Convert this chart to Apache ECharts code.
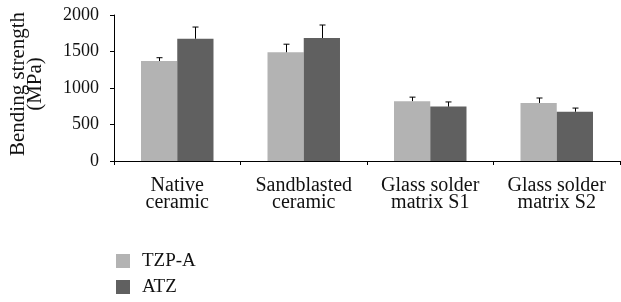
<!DOCTYPE html>
<html lang="en">
<head>
    <meta charset="UTF-8">
    <title>Bending strength</title>
    <script src="https://cdn.jsdelivr.net/npm/echarts@6/dist/echarts.min.js"></script>
    <style>
        body { margin: 0; background: #fff; }
        #main { width: 621px; height: 302px; }
    </style>
</head>
<body>
    <div id="main"></div>
    <script type="text/javascript">
        var categories = ['Native\nceramic', 'Sandblasted\nceramic', 'Glass solder\nmatrix S1', 'Glass solder\nmatrix S2'];
        var tzpA = [1370, 1490, 820, 795];
        var tzpAErr = [45, 110, 55, 68];
        var atz = [1675, 1685, 745, 675];
        var atzErr = [160, 178, 64, 50];
        var yTicks = [0, 500, 1000, 1500, 2000];

        var gapRatio = 0.427;
        var serif = 'Liberation Serif';

        // error bar (upper whisker only) drawn on top of each bar
        function errorBar(sign) {
            return function (params, api) {
                var i = api.value(0);
                var base = api.coord([i, api.value(1)]);
                var top = api.coord([i, api.value(1) + api.value(2)]);
                var band = api.size([1, 0])[0];
                var barW = band * (1 - gapRatio) / 2;
                var x = Math.round(base[0] + sign * barW / 2) + 0.5;
                var style = { stroke: '#000', lineWidth: 1 };
                return {
                    type: 'group',
                    children: [
                        { type: 'line', shape: { x1: x, y1: base[1], x2: x, y2: top[1] }, style: style },
                        { type: 'line', shape: { x1: x - 3, y1: top[1], x2: x + 3, y2: top[1] }, style: style }
                    ]
                };
            };
        }

        var chart = echarts.init(document.getElementById('main'));
        chart.setOption({
            animation: false,
            textStyle: { fontFamily: serif },
            grid: { left: 114, right: 1, top: 15, bottom: 141 },
            legend: {
                data: ['TZP-A', 'ATZ'],
                orient: 'vertical',
                left: 116,
                top: 251,
                height: 70,
                padding: 0,
                itemWidth: 14,
                itemHeight: 14,
                itemGap: 6,
                icon: 'rect',
                textStyle: { fontFamily: serif, fontSize: 19, lineHeight: 20, color: '#111', padding: [0, 0, 0, 7] }
            },
            xAxis: {
                type: 'category',
                data: categories,
                axisLine: { lineStyle: { color: '#000', width: 1 } },
                axisTick: { show: true, length: 4, lineStyle: { color: '#000' } },
                axisLabel: {
                    fontFamily: serif, fontSize: 20, lineHeight: 17, color: '#111', margin: 16,
                    interval: 0
                }
            },
            yAxis: {
                type: 'value',
                min: yTicks[0],
                max: yTicks[yTicks.length - 1],
                interval: 500,
                name: 'Bending strength\n(MPa)',
                nameLocation: 'middle',
                nameGap: 70,
                nameTextStyle: { fontFamily: serif, fontSize: 21, lineHeight: 17, color: '#111', padding: [0, 0, 0, 8] },
                axisLine: { show: true, lineStyle: { color: '#000', width: 1 } },
                axisTick: { show: true, length: 4, lineStyle: { color: '#000' } },
                axisLabel: {
                    fontFamily: serif, fontSize: 18, color: '#111', margin: 15,
                    formatter: function (v) { return String(v); }
                },
                splitLine: { show: false }
            },
            series: [
                {
                    name: 'TZP-A', type: 'bar', data: tzpA,
                    barGap: '0%', barCategoryGap: (gapRatio * 100) + '%',
                    itemStyle: { color: '#b3b3b3' }
                },
                {
                    name: 'ATZ', type: 'bar', data: atz,
                    barGap: '0%', barCategoryGap: (gapRatio * 100) + '%',
                    itemStyle: { color: '#606060' }
                },
                {
                    type: 'custom', z: 5, silent: true,
                    renderItem: errorBar(-1),
                    encode: { x: 0, y: 1 },
                    data: tzpA.map(function (v, i) { return [i, v, tzpAErr[i]]; })
                },
                {
                    type: 'custom', z: 5, silent: true,
                    renderItem: errorBar(1),
                    encode: { x: 0, y: 1 },
                    data: atz.map(function (v, i) { return [i, v, atzErr[i]]; })
                }
            ]
        });
    </script>
</body>
</html>
